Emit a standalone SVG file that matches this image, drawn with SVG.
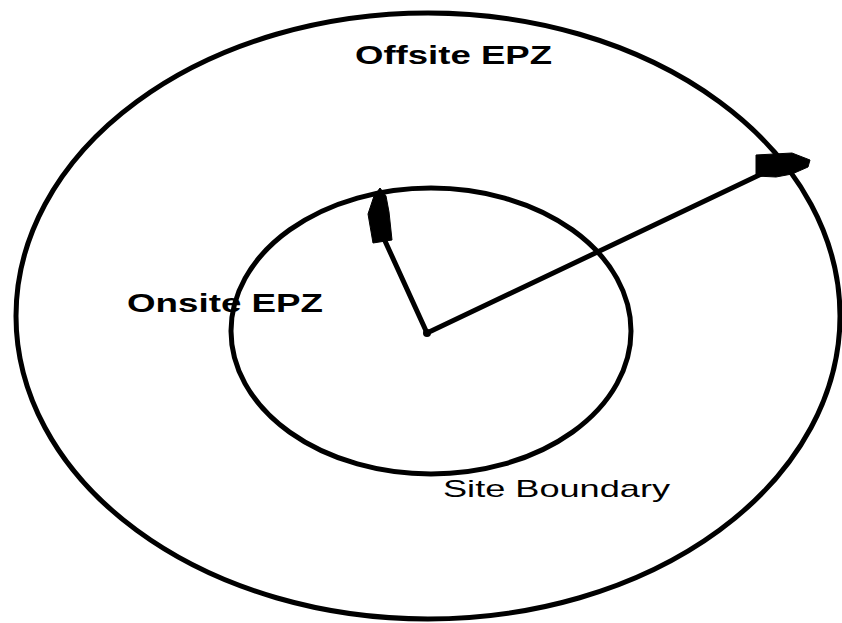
<svg xmlns="http://www.w3.org/2000/svg" width="842" height="623" viewBox="0 0 842 623">
<style>
.ring{fill:none;stroke:#000;stroke-width:5}
.ray{stroke:#000;stroke-width:5;fill:none;stroke-linecap:round}
.head{fill:#000;stroke:#000;stroke-width:1}
.lb{font-family:"Liberation Sans",Arial,sans-serif;font-weight:bold;font-size:25px;fill:#000}
.lr{font-family:"Liberation Sans",Arial,sans-serif;font-size:24px;fill:#000}
</style>
<rect width="842" height="623" fill="#fff"/>
<g id="offsite-epz">
<ellipse class="ring" cx="428" cy="316" rx="412" ry="303"/>
<text class="lb" x="355" y="64" textLength="197" lengthAdjust="spacingAndGlyphs">Offsite EPZ</text>
</g>
<g id="onsite-epz">
<text class="lb" x="127" y="312" textLength="196" lengthAdjust="spacingAndGlyphs">Onsite EPZ</text>
<ellipse class="ring" cx="431" cy="331" rx="200" ry="143"/>
</g>
<g id="site-boundary">
<text class="lr" x="443" y="497" textLength="227" lengthAdjust="spacingAndGlyphs">Site Boundary</text>
</g>
<g id="connectors">
<line class="ray" x1="427" y1="333" x2="380" y2="230"/>
<polygon class="head" points="380,188 386,196 389,212 392,240 373,243 368,214 374,196"/>
<line class="ray" x1="427" y1="333" x2="770" y2="170"/>
<polygon class="head" points="756,155 792,153 810,160 808,167 792,174 776,177 756,176"/>
<circle cx="427" cy="333" r="4" fill="#000"/>
</g>
</svg>
